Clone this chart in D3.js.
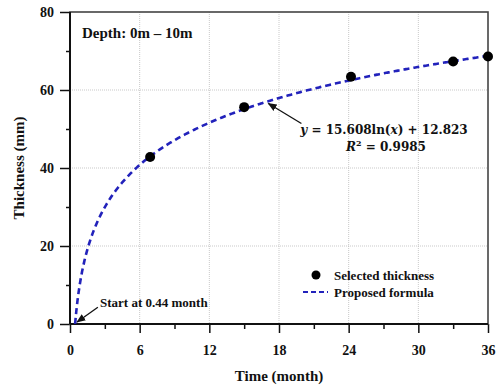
<!DOCTYPE html>
<html>
<head>
<meta charset="utf-8">
<script src="https://cdn.jsdelivr.net/npm/d3@7"></script>
<style>
  body { margin: 0; background: #fff; }
  text { font-family: "Liberation Serif", "Times New Roman", serif; font-weight: bold; fill: #111; }
  text.math { font-family: "DejaVu Serif", serif; }
</style>
</head>
<body>
<div id="chart"></div>
<script>
// selected thickness points
const months = [6.9, 15, 24.2, 33, 36];
const thickness = [42.8, 55.6, 63.4, 67.3, 68.6];
const fitA = 15.608, fitB = 12.823, fitStart = 0.44;
const xTicks = [0, 6, 12, 18, 24, 30, 36];
const yTicks = [0, 20, 40, 60, 80];

const W = 496, H = 388;
const m = { top: 12, right: 8, bottom: 64, left: 70 };
const w = W - m.left - m.right, h = H - m.top - m.bottom;

const svg = d3.select("#chart").append("svg").attr("width", W).attr("height", H);
const g = svg.append("g").attr("transform", "translate(" + m.left + "," + m.top + ")");

const x = d3.scaleLinear().domain([0, 36]).range([0, w]);
const y = d3.scaleLinear().domain([0, 80]).range([h, 0]);

// grid
g.append("g").selectAll("line").data(xTicks.slice(1, -1)).join("line")
  .attr("x1", d => x(d)).attr("x2", d => x(d)).attr("y1", 0).attr("y2", h)
  .attr("stroke", "#bbb").attr("stroke-width", 0.8).attr("stroke-dasharray", "1,1");
g.append("g").selectAll("line").data(yTicks.slice(1, -1)).join("line")
  .attr("y1", d => y(d)).attr("y2", d => y(d)).attr("x1", 0).attr("x2", w)
  .attr("stroke", "#bbb").attr("stroke-width", 0.8).attr("stroke-dasharray", "1,1");

// minor ticks
g.append("g").attr("transform", "translate(0," + h + ")")
  .call(d3.axisBottom(x).tickValues(d3.range(3, 36, 6)).tickSize(5).tickFormat(""))
  .call(a => a.select(".domain").remove())
  .selectAll("line").attr("stroke", "#111").attr("stroke-width", 1.5);
g.append("g")
  .call(d3.axisLeft(y).tickValues(d3.range(10, 80, 20)).tickSize(4).tickFormat(""))
  .call(a => a.select(".domain").remove())
  .selectAll("line").attr("stroke", "#111").attr("stroke-width", 1.5);

// major axes
const xAxis = g.append("g").attr("transform", "translate(0," + h + ")")
  .call(d3.axisBottom(x).tickValues(xTicks).tickSize(9).tickPadding(12));
const yAxis = g.append("g")
  .call(d3.axisLeft(y).tickValues(yTicks).tickSize(10).tickPadding(6));
[xAxis, yAxis].forEach(a => {
  a.select(".domain").remove();
  a.selectAll("line").attr("stroke", "#111").attr("stroke-width", 1.5);
  a.selectAll("text").style("font-size", "14px").style("fill", "#111");
});

// frame
g.append("rect").attr("width", w).attr("height", h).attr("fill", "none").attr("stroke", "#444").attr("stroke-width", 1.6);
g.append("line").attr("x1", 0).attr("x2", 0).attr("y1", 0).attr("y2", h).attr("stroke", "#111").attr("stroke-width", 2);
g.append("line").attr("x1", 0).attr("x2", w).attr("y1", h).attr("y2", h).attr("stroke", "#111").attr("stroke-width", 2);

// fitted curve
const curveX = d3.range(fitStart, 36.0001, 0.1).concat([36]);
const line = d3.line().x(d => x(d)).y(d => y(fitA * Math.log(d) + fitB));
g.append("path").datum(curveX).attr("d", line)
  .attr("fill", "none").attr("stroke", "#2222bb").attr("stroke-width", 2.6).attr("stroke-dasharray", "6,4");

// points
g.selectAll("circle.pt").data(months).join("circle").attr("class", "pt")
  .attr("cx", d => x(d)).attr("cy", (d, i) => y(thickness[i])).attr("r", 5).attr("fill", "#000");

// arrows
svg.append("defs").append("marker").attr("id", "arr").attr("viewBox", "0 0 10 10")
  .attr("refX", 9).attr("refY", 5).attr("markerWidth", 7).attr("markerHeight", 7).attr("orient", "auto")
  .append("path").attr("d", "M0,1 L10,5 L0,9 z").attr("fill", "#111");
const eqX = 17;
g.append("line").attr("x1", x(eqX) + 34).attr("y1", y(fitA * Math.log(eqX) + fitB) + 22)
  .attr("x2", x(eqX) + 1).attr("y2", y(fitA * Math.log(eqX) + fitB) + 2)
  .attr("stroke", "#111").attr("stroke-width", 1.3).attr("marker-end", "url(#arr)");
g.append("line").attr("x1", x(2.4)).attr("y1", y(4.3))
  .attr("x2", x(fitStart) + 2).attr("y2", y(0) - 2)
  .attr("stroke", "#111").attr("stroke-width", 1.3).attr("marker-end", "url(#arr)");

// annotations
g.append("text").attr("x", 12).attr("y", 26).style("font-size", "15px").text("Depth: 0m \u2013 10m");
g.append("text").attr("x", 30).attr("y", 295).style("font-size", "13px").text("Start at 0.44 month");
const eq = g.append("text").attr("class", "math").attr("x", 314).attr("y", 122).attr("text-anchor", "middle")
  .style("font-size", "12px");
eq.append("tspan").style("font-style", "italic").text("y");
eq.append("tspan").text(" = 15.608ln(");
eq.append("tspan").style("font-style", "italic").text("x");
eq.append("tspan").text(") + 12.823");
const r2 = g.append("text").attr("class", "math").attr("x", 316).attr("y", 139).attr("text-anchor", "middle")
  .style("font-size", "12px");
r2.append("tspan").style("font-style", "italic").text("R");
r2.append("tspan").style("font-size", "8px").attr("dy", -5).text("2");
r2.append("tspan").attr("dy", 5).text(" = 0.9985");

// legend
const lg = g.append("g").attr("transform", "translate(233,263)");
lg.append("circle").attr("cx", 13).attr("cy", 0).attr("r", 4.5).attr("fill", "#000");
lg.append("text").attr("x", 31).attr("y", 4.5).style("font-size", "13px").text("Selected thickness");
lg.append("line").attr("x1", 0).attr("x2", 25).attr("y1", 17).attr("y2", 17)
  .attr("stroke", "#2222bb").attr("stroke-width", 2).attr("stroke-dasharray", "5,3");
lg.append("text").attr("x", 31).attr("y", 21.5).style("font-size", "13px").text("Proposed formula");

// axis titles
svg.append("text").attr("x", m.left + w / 2).attr("y", 381).attr("text-anchor", "middle")
  .style("font-size", "15px").text("Time (month)");
svg.append("text").attr("transform", "translate(24," + (m.top + h / 2) + ") rotate(-90)")
  .attr("text-anchor", "middle").style("font-size", "15px").text("Thickness (mm)");
</script>
</body>
</html>
